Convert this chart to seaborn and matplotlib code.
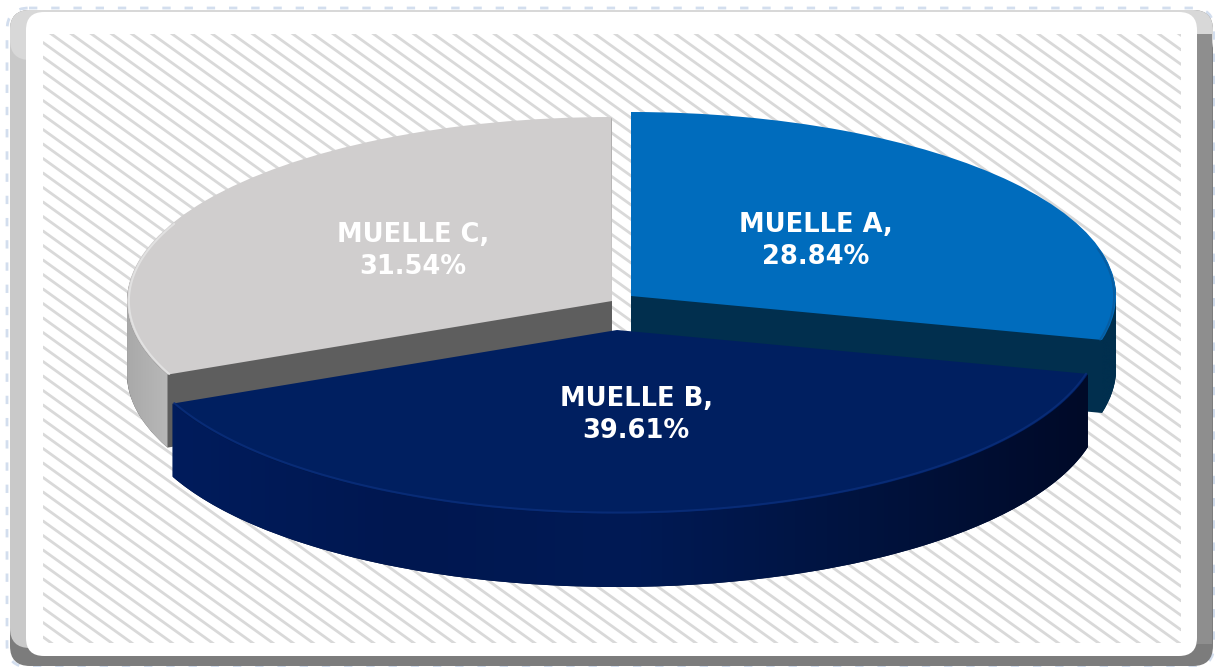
import numpy as np
import matplotlib
matplotlib.use('Agg')
import matplotlib.pyplot as plt
import seaborn as sns
from matplotlib.patches import FancyBboxPatch, Rectangle, PathPatch
from matplotlib.path import Path

# Data
labels = ['MUELLE A', 'MUELLE B', 'MUELLE C']
shares = [28.84, 39.61, 31.54]

# Colours per slice
top_colors = ['#006cbd', '#001f60', '#d0cece']
cut_colors = ['#012f4e', '#00123c', '#5e5e5e']
rim_colors = ['#0a5a9c', '#0b2f7c', '#e6e6e6']
wall_colors = [['#012f4e', '#012f4e'],
               ['#001c5c', '#001750', '#001a55', '#00133f', '#000a28'],
               ['#a9a9a9', '#b8b8b8']]

# Layout, in picture pixels
W, H = 1215, 667
centers = [(631, 296), (617, 330), (612, 301)]
label_pos = [(816, 241), (636, 415), (413, 251)]
rx, ry = 485, 184
depth = 73
k = rx / ry

sns.set_theme(style='white')
plt.rcParams['font.family'] = ['DejaVu Sans']

fig = plt.figure(figsize=(W / 100, H / 100), dpi=100, facecolor='white')

# Background: frame and striped plot area
bg = fig.add_axes([0, 0, 1, 1])
bg.set_xlim(0, W)
bg.set_ylim(H, 0)
bg.axis('off')

def round_box(x0, y0, x1, y1, r, **kw):
    box = FancyBboxPatch((x0 + r, y0 + r), x1 - x0 - 2 * r, y1 - y0 - 2 * r,
                         boxstyle='round,pad=%d,rounding_size=%d' % (r, r), **kw)
    bg.add_patch(box)
    return box

round_box(7, 8, 1214, 667, 22, fc='white', ec='#d3deee', lw=2, ls=(0, (3, 5)))
round_box(10, 10, 1213, 666, 20, fc='#7c7c7c', ec='none')
round_box(10, 10, 620, 648, 20, fc='#c9c9c9', ec='none')
round_box(10, 10, 1213, 60, 20, fc='#d8d8d8', ec='none')
bg.add_patch(Rectangle((1197, 34), 15, 610, fc='#8e8e8e', ec='none'))
round_box(26, 12, 1197, 656, 18, fc='white', ec='none')

plot_area = Rectangle((43, 34), 1138, 609, fc='none', ec='none')
bg.add_patch(plot_area)
for y0 in np.arange(-900, 660, 14.5):
    stripe, = bg.plot([43, 1181], [y0, y0 + 1138 * 0.72], color='#d9d9d9', lw=2.0)
    stripe.set_clip_path(plot_area)

# Pie: y units are stretched so that a circle is drawn as the flat ellipse
ax = fig.add_axes([0, 0, 1, 1], facecolor='none')

def to_data(px, py):
    return px, (H - py) * k

def arc(center, a0, a1):
    # angles clockwise from the top, in degrees
    t = np.radians(np.linspace(a0, a1, 120))
    return center[0] + rx * np.sin(t), center[1] + ry * -np.cos(t)

z = 1
def draw_slice(i, start):
    global z
    cx, cy = centers[i]
    frac = shares[i] / 100
    end = start + frac * 360
    mpl_start = 90 - start
    # side of the slice: the same wedge stacked downwards
    for d in range(depth, 0, -1):
        ax.pie([frac], startangle=mpl_start, counterclock=False, normalize=False,
               center=to_data(cx, cy + d), radius=rx, colors=[cut_colors[i]],
               wedgeprops=dict(zorder=z, lw=0))
    z += 1
    # outer wall with its gradient, only on the front half
    a0 = max(start, 90)
    a1 = min(end, 270)
    if a1 > a0:
        xs, ys = arc((cx, cy), a0, a1)
        px = np.r_[xs, xs[::-1]]
        py = np.r_[ys, ys[::-1] + depth]
        dx, dy = to_data(px, py)
        poly = Path(np.c_[dx, dy])
        cmap = sns.blend_palette(wall_colors[i], as_cmap=True)
        im = ax.imshow(np.linspace(0, 1, 256).reshape(1, -1), cmap=cmap, aspect='auto',
                       extent=(px.min(), px.max(), dy.min(), dy.max()), zorder=z)
        im.set_clip_path(PathPatch(poly, transform=ax.transData))
        z += 1
    # top face
    ax.pie([frac], startangle=mpl_start, counterclock=False, normalize=False,
           center=to_data(cx, cy), radius=rx, colors=[top_colors[i]],
           wedgeprops=dict(zorder=z, lw=0))
    z += 1
    # soft rim, only where the edge turns to the front
    xs, ys = arc((cx, cy), max(start, 75), min(end, 295))
    xs_in = cx + (xs - cx) * 0.996
    ys_in = cy + (ys - cy) * 0.992
    ax.plot(*to_data(xs_in, ys_in), color=rim_colors[i], lw=1.4, alpha=0.8, zorder=z)
    z += 1

starts = np.r_[0, np.cumsum(shares)[:-1]] / 100 * 360
for i in [0, 2, 1]:
    draw_slice(i, starts[i])

for name, share, (px, py) in zip(labels, shares, label_pos):
    ax.text(*to_data(px, py), '%s,\n%.2f%%' % (name, share), color='white', fontsize=18.5,
            fontweight='bold', ha='center', va='center', linespacing=1.3, zorder=z)

ax.set_aspect('auto')
ax.set_xlim(0, W)
ax.set_ylim(0, H * k)
ax.axis('off')

fig.savefig('out.png', dpi=100, facecolor='white')
